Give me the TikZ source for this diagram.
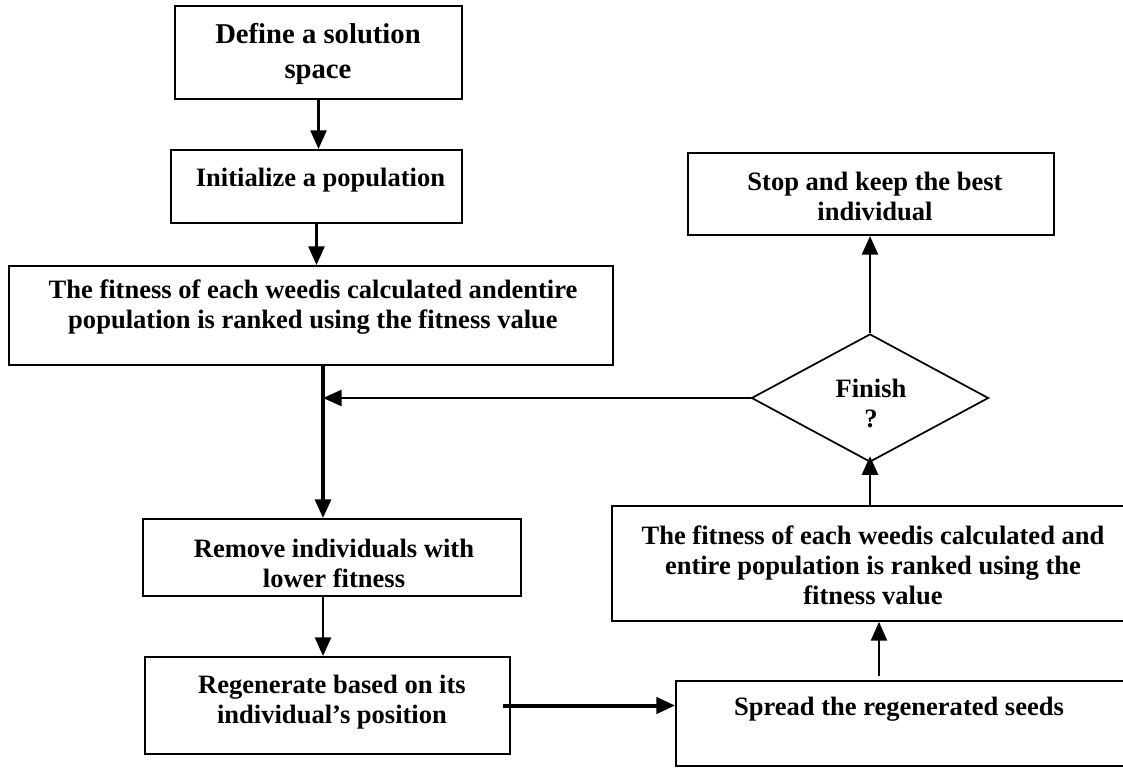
\documentclass[tikz,border=0pt]{standalone}
\usepackage{fontspec}
\setmainfont{Liberation Serif}
\usetikzlibrary{arrows.meta,shapes.geometric}

\tikzset{
  box/.style={draw, line width=1.5pt, inner sep=0pt},
  txt/.style={font=\fontsize{19.9}{22.5}\selectfont\bfseries, align=center, inner sep=0pt},
  flow/.style={line width=2pt, -{Triangle[length=14pt,width=12pt]}},
}

\begin{document}
\begin{tikzpicture}[x=0.75pt,y=0.75pt,yscale=-1,xscale=1]
    \useasboundingbox (0,0) rectangle (1123,767);
    \clip (0,0) rectangle (1123,767);

    % Shape: boxes of the left column
    \node[box, minimum width=215.25pt, minimum height=69.75pt] (define) at (318.5,52.5) {};
    \node[box, minimum width=218.25pt, minimum height=54.75pt] (init) at (316.5,186.5) {};
    \node[box, minimum width=453pt, minimum height=74.25pt] (fit) at (311,315.5) {};
    \node[box, minimum width=283.5pt, minimum height=57.75pt] (remove) at (332,557.5) {};
    \node[box, minimum width=273.75pt, minimum height=72.75pt] (regen) at (327.5,705.5) {};

    % Shape: boxes of the right column
    \node[box, line width=1.3pt, minimum width=348pt, minimum height=63.75pt] (spread) at (908,723.5) {};
    \node[box, line width=1.3pt, minimum width=396pt, minimum height=86.25pt] (refit) at (876,563.5) {};
    \node[box, diamond, line width=1.3pt, minimum width=177.75pt, minimum height=96pt] (finish) at (870,398) {};
    \node[box, minimum width=274.5pt, minimum height=61.5pt] (stop) at (871,194) {};

    % Text Node
    \node[txt, font=\fontsize{21.5}{26}\selectfont\bfseries] (define-t) at (318,54) {Define a solution\\space};
    \node[txt] (init-t) at (320.5,180) {Initialize a population};
    \node[txt] (fit-t) at (313,307) {The fitness of each weedis calculated andentire\\population is ranked using the fitness value};
    \node[txt] (remove-t) at (334,563) {Remove individuals with\\lower fitness};
    \node[txt] (regen-t) at (332,702) {Regenerate based on its\\individual's position};
    \node[txt] (spread-t) at (899,709) {Spread the regenerated seeds};
    \node[txt] (refit-t) at (873,565) {The fitness of each weedis calculated and\\entire population is ranked using the\\fitness value};
    \node[txt] (finish-t) at (871,403) {Finish\\?};
    \node[txt] (stop-t) at (875,196) {Stop and keep the best\\individual};

    % Connectors
    \coordinate (join) at (323,398);
    \coordinate (up) at (879,0);
    \draw[flow] (define.south) -- (define.south |- init.north);
    \draw[flow] (init.south) -- (init.south |- fit.north);
    \draw[flow, line width=2.4pt] (join |- fit.south) -- (join |- remove.north);
    \draw[flow] (finish.west) -- (join);
    \draw[flow] (join |- remove.south) -- (join |- regen.north);
    \draw[flow, line width=3pt] ([xshift=-6pt]regen.east) -- (regen.east -| spread.west);
    \draw[flow, line width=1.5pt] ([yshift=-3pt]up |- spread.north) -- (up |- refit.south);
    \draw[flow, shorten >=-5pt] (finish.south |- refit.north) -- (finish.south);
    \draw[flow] (finish.north) -- (finish.north |- stop.south);

\end{tikzpicture}
\end{document}
